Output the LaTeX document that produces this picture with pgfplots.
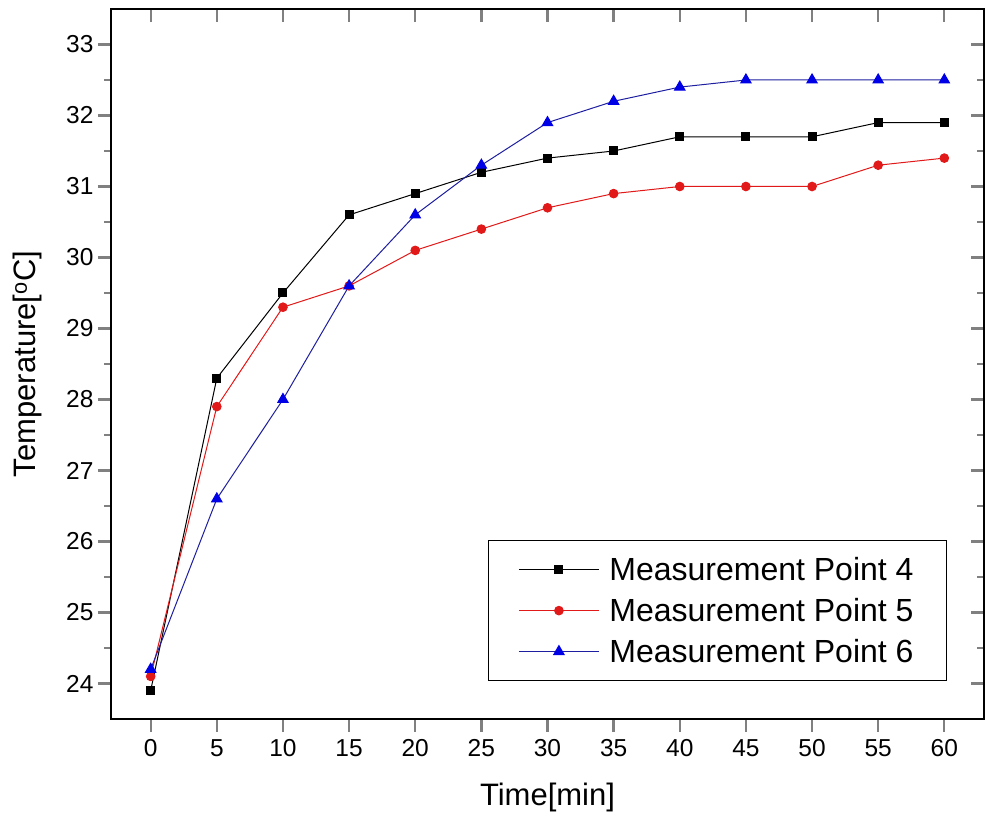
\documentclass[border=0pt]{standalone}
\usepackage{fontspec}
\setmainfont{Liberation Sans}
\usepackage{pgfplots}
\pgfplotsset{compat=1.18}
\definecolor{mred}{RGB}{225,25,25}
\definecolor{mblue}{RGB}{0,0,230}
\definecolor{mblueline}{RGB}{30,30,160}
\begin{document}
\begin{tikzpicture}
\pgfplotsset{
  common/.style={
    at={(0pt,0pt)}, anchor=south west,
    scale only axis, width=873pt, height=710pt,
    xmin=-3, xmax=63, ymin=23.5, ymax=33.5,
    xtick={0,5,...,60}, ytick={24,25,...,33},
    minor y tick num=1,
    axis line style={line width=2.8pt},
    major tick style={line width=2.3pt},
    minor tick style={line width=2.3pt},
    major tick length=13pt, minor tick length=7pt,
  }
}
\begin{axis}[common,
  tick align=outside,
  xtick pos=left, ytick pos=left,
  /pgf/number format/assume math mode=true,
  ticklabel style={font=\fontsize{24.5}{26}\selectfont},
  xticklabel style={yshift=-4pt},
  yticklabel style={xshift=-1pt},
  xlabel={Time[min]}, ylabel={Temperature[\textsuperscript{o}C]},
  label style={font=\fontsize{31}{34}\selectfont},
  xlabel style={at={(axis description cs:0.5,-0.110)}, anchor=center},
  ylabel style={at={(axis description cs:-0.0951,0.5)}, anchor=center},
  legend style={at={(rel axis cs:0.9576,0.0535)}, anchor=south east,
    draw=black, line width=0.8pt, font=\fontsize{32}{34}\selectfont,
    inner xsep=30pt, inner ysep=14pt, row sep=11pt,
    nodes={text height=23pt, text depth=1pt, inner sep=3pt},
    /tikz/every odd column/.append style={column sep=7pt}},
  legend cell align=left,
  legend image code/.code={\draw[mark repeat=2,mark phase=2] plot coordinates {(0pt,0pt)(40pt,0pt)(80pt,0pt)};},
]
\addplot[black, line width=1pt, mark=square*, mark size=4pt, mark options={solid}] coordinates {
(0,23.9)(5,28.3)(10,29.5)(15,30.6)(20,30.9)(25,31.2)(30,31.4)(35,31.5)(40,31.7)(45,31.7)(50,31.7)(55,31.9)(60,31.9)};
\addlegendentry{Measurement Point 4}
\addplot[mred, line width=1pt, mark=*, mark size=4.3pt] coordinates {
(0,24.1)(5,27.9)(10,29.3)(15,29.6)(20,30.1)(25,30.4)(30,30.7)(35,30.9)(40,31.0)(45,31.0)(50,31.0)(55,31.3)(60,31.4)};
\addlegendentry{Measurement Point 5}
\addplot[mblueline, line width=1pt, mark=triangle*, mark size=6pt, mark options={mblue, fill=mblue}] coordinates {
(0,24.2)(5,26.6)(10,28.0)(15,29.6)(20,30.6)(25,31.3)(30,31.9)(35,32.2)(40,32.4)(45,32.5)(50,32.5)(55,32.5)(60,32.5)};
\addlegendentry{Measurement Point 6}
\end{axis}
\begin{axis}[common,
  tick align=inside,
  xtick pos=right, ytick pos=right,
  xticklabels={}, yticklabels={},
]
\end{axis}
\pgfresetboundingbox
\path (-111pt,-114pt) rectangle (875pt,719pt);
\end{tikzpicture}
\end{document}
